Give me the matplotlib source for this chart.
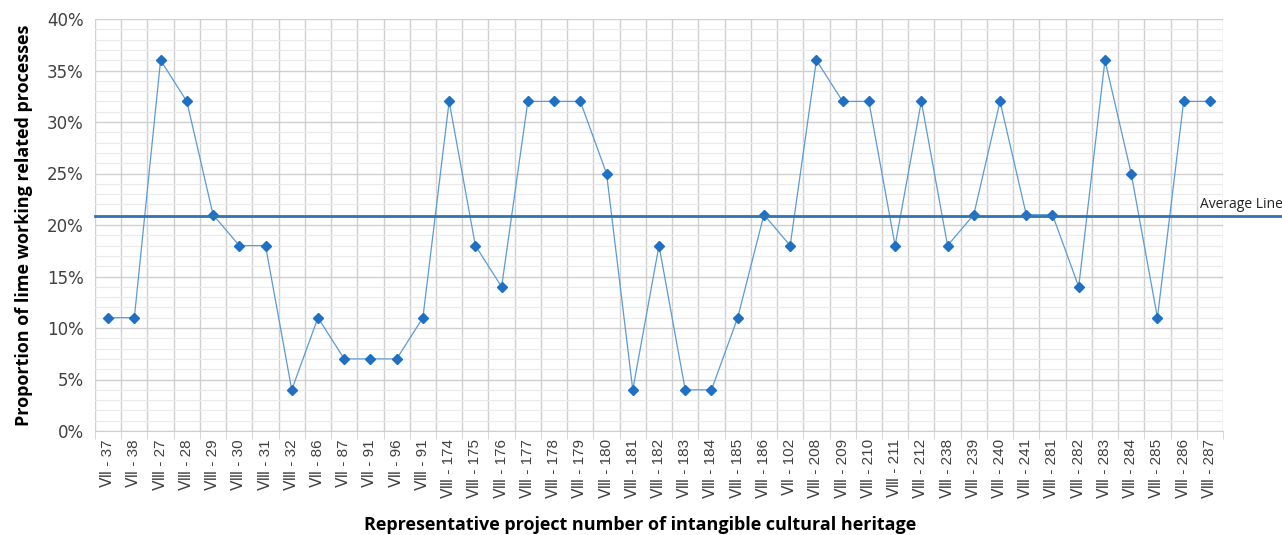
import matplotlib
matplotlib.use("Agg")
import matplotlib.pyplot as plt
from matplotlib.ticker import MultipleLocator, FixedLocator, PercentFormatter

categories = ["Ⅶ-37", "Ⅶ-38", "Ⅷ-27", "Ⅷ-28", "Ⅷ-29", "Ⅷ-30", "Ⅷ-31", "Ⅷ-32",
              "Ⅶ-86", "Ⅶ-87", "Ⅶ-91", "Ⅶ-96", "Ⅷ-91", "Ⅷ-174", "Ⅷ-175", "Ⅷ-176",
              "Ⅷ-177", "Ⅷ-178", "Ⅷ-179", "Ⅷ-180", "Ⅷ-181", "Ⅷ-182", "Ⅷ-183", "Ⅷ-184",
              "Ⅷ-185", "Ⅷ-186", "Ⅶ-102", "Ⅷ-208", "Ⅷ-209", "Ⅷ-210", "Ⅷ-211", "Ⅷ-212",
              "Ⅷ-238", "Ⅷ-239", "Ⅷ-240", "Ⅷ-241", "Ⅷ-281", "Ⅷ-282", "Ⅷ-283", "Ⅷ-284",
              "Ⅷ-285", "Ⅷ-286", "Ⅷ-287"]
values = [11, 11, 36, 32, 21, 18, 18, 4, 11, 7, 7, 7, 11, 32, 18, 14, 32, 32, 32, 25,
          4, 18, 4, 4, 11, 21, 18, 36, 32, 32, 18, 32, 18, 21, 32, 21, 21, 14, 36, 25,
          11, 32, 32]
average_value = 20.85

fams = ["Liberation Sans", "DejaVu Sans", "Noto Sans CJK SC"]
fig = plt.figure(figsize=(12.82, 5.35), dpi=100)
ax = fig.add_axes([95/1282, 1-431/535, (1223-95)/1282, (431-19)/535])

x = list(range(len(categories)))
ax.plot(x, values, color="#5B9BD5", lw=0.9, zorder=3)
ax.plot(x, values, ls="none", marker="D", ms=5.5, color="#1F6FC5", zorder=4)

ax.set_xlim(-0.5, len(categories) - 0.5)
ax.set_ylim(0, 40)
ax.yaxis.set_major_locator(MultipleLocator(5))
ax.yaxis.set_minor_locator(MultipleLocator(1))
ax.yaxis.set_major_formatter(PercentFormatter(decimals=0))
ax.set_xticks(x)
ax.set_xticklabels([c.replace("-", " - ") for c in categories], rotation=90, fontsize=11,
                   color="#404040", family=fams)
ax.xaxis.set_minor_locator(FixedLocator([i - 0.5 for i in range(len(categories) + 1)]))
ax.tick_params(axis="x", which="major", length=0, pad=6)
ax.tick_params(axis="x", which="minor", length=6, color="#D0D0D0")
ax.tick_params(axis="y", which="both", length=0, labelsize=12, labelcolor="#404040", pad=8)

ax.grid(axis="y", which="major", color="#D0D0D0", lw=1.0)
ax.grid(axis="y", which="minor", color="#EAEAEA", lw=0.8)
ax.grid(axis="x", which="minor", color="#D0D0D0", lw=1.0)
ax.set_axisbelow(True)
for s in ["top", "right", "left"]:
    ax.spines[s].set_visible(False)
ax.spines["bottom"].set_color("#D0D0D0")

ax.axhline(average_value, xmin=0, xmax=1282/1128, color="#2E75B6", lw=2, clip_on=False, zorder=5)
fig.text(1200/1282, 1-205/535, "Average Line", ha="left", va="center",
         fontsize=10, family="Open Sans", color="#222222")

ax.set_ylabel("Proportion of lime working related processes", fontsize=13, fontweight="bold",
              family="Open Sans", labelpad=10)
fig.text(640/1282, 1-525/535, "Representative project number of intangible cultural heritage",
         ha="center", va="center", fontsize=13, fontweight="bold", family="Open Sans")

fig.savefig("out.png", dpi=100)
